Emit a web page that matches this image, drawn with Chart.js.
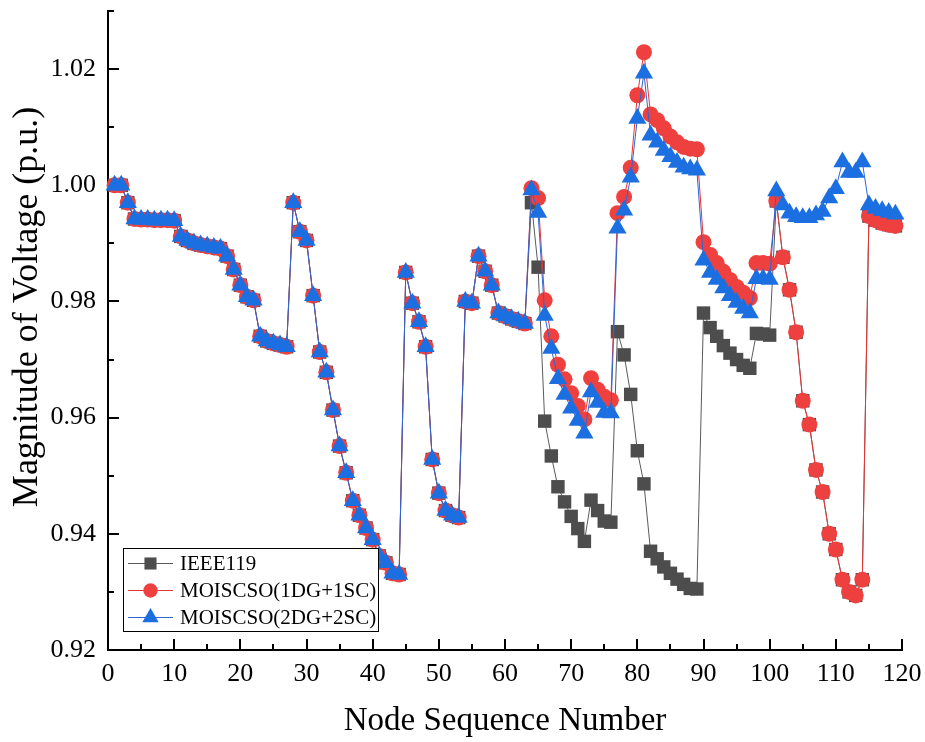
<!DOCTYPE html>
<html>
<head>
<meta charset="utf-8">
<script src="https://cdn.jsdelivr.net/npm/chart.js@4.4.1/dist/chart.umd.min.js"></script>
<style>
  html, body { margin: 0; padding: 0; background: #fff; }
  #chart { display: block; }
</style>
</head>
<body>
<canvas id="chart" width="925" height="742"></canvas>
<script>
// node numbers of the 119-bus feeder
const nodes = Array.from({ length: 119 }, (_, i) => i + 1);

// bus voltage magnitudes (p.u.), one value per node
const ieee119 = [
  1.0000, 1.0000, 0.9970, 0.9942, 0.9941, 0.9941, 0.9940, 0.9940, 0.9940, 0.9939,
  0.9912, 0.9905, 0.9900, 0.9897, 0.9895, 0.9893, 0.9891, 0.9878, 0.9855, 0.9828,
  0.9808, 0.9802, 0.9740, 0.9732, 0.9728, 0.9725, 0.9722, 0.9970, 0.9920, 0.9905,
  0.9810, 0.9713, 0.9678, 0.9613, 0.9551, 0.9505, 0.9457, 0.9432, 0.9410, 0.9390,
  0.9362, 0.9350, 0.9332, 0.9330, 0.9850, 0.9797, 0.9765, 0.9722, 0.9528, 0.9470,
  0.9440, 0.9432, 0.9428, 0.9800, 0.9797, 0.9878, 0.9852, 0.9828, 0.9780, 0.9775,
  0.9770, 0.9766, 0.9762, 0.9970, 0.9859, 0.9594, 0.9534, 0.9481, 0.9455, 0.9430,
  0.9409, 0.9387, 0.9458, 0.9440, 0.9422, 0.9420, 0.9748, 0.9708, 0.9640, 0.9543,
  0.9486, 0.9370, 0.9357, 0.9343, 0.9332, 0.9322, 0.9313, 0.9306, 0.9305, 0.9780,
  0.9755, 0.9740, 0.9724, 0.9711, 0.9700, 0.9690, 0.9685, 0.9745, 0.9744, 0.9742,
  0.9973, 0.9876, 0.9820, 0.9747, 0.9629, 0.9588, 0.9510, 0.9472, 0.9400, 0.9373,
  0.9321, 0.9300, 0.9294, 0.9321, 0.9947, 0.9940, 0.9935, 0.9932, 0.9930
];

const dg1sc1 = [
  1.0000, 1.0000, 0.9970, 0.9942, 0.9941, 0.9941, 0.9940, 0.9940, 0.9940, 0.9939,
  0.9912, 0.9905, 0.9900, 0.9897, 0.9895, 0.9893, 0.9891, 0.9878, 0.9855, 0.9828,
  0.9808, 0.9802, 0.9740, 0.9732, 0.9728, 0.9725, 0.9722, 0.9970, 0.9920, 0.9905,
  0.9810, 0.9713, 0.9678, 0.9613, 0.9551, 0.9505, 0.9457, 0.9432, 0.9410, 0.9390,
  0.9362, 0.9350, 0.9332, 0.9330, 0.9850, 0.9797, 0.9765, 0.9722, 0.9528, 0.9470,
  0.9440, 0.9432, 0.9428, 0.9800, 0.9797, 0.9878, 0.9852, 0.9828, 0.9780, 0.9775,
  0.9770, 0.9766, 0.9762, 0.9995, 0.9978, 0.9802, 0.9740, 0.9691, 0.9666, 0.9642,
  0.9620, 0.9597, 0.9668, 0.9648, 0.9636, 0.9630, 0.9952, 0.9980, 1.0030, 1.0155,
  1.0229, 1.0122, 1.0112, 1.0098, 1.0084, 1.0074, 1.0066, 1.0063, 1.0062, 0.9902,
  0.9880, 0.9866, 0.9851, 0.9837, 0.9825, 0.9815, 0.9806, 0.9866, 0.9866, 0.9865,
  0.9973, 0.9876, 0.9820, 0.9747, 0.9629, 0.9588, 0.9510, 0.9472, 0.9400, 0.9373,
  0.9321, 0.9300, 0.9294, 0.9321, 0.9947, 0.9940, 0.9935, 0.9932, 0.9930
];

const dg2sc2 = [
  1.0000, 1.0000, 0.9970, 0.9942, 0.9941, 0.9941, 0.9940, 0.9940, 0.9940, 0.9939,
  0.9912, 0.9905, 0.9900, 0.9897, 0.9895, 0.9893, 0.9891, 0.9878, 0.9855, 0.9828,
  0.9808, 0.9802, 0.9740, 0.9732, 0.9728, 0.9725, 0.9722, 0.9970, 0.9920, 0.9905,
  0.9810, 0.9713, 0.9678, 0.9613, 0.9551, 0.9505, 0.9457, 0.9432, 0.9410, 0.9390,
  0.9362, 0.9350, 0.9332, 0.9330, 0.9850, 0.9797, 0.9765, 0.9722, 0.9528, 0.9470,
  0.9440, 0.9432, 0.9428, 0.9800, 0.9797, 0.9878, 0.9852, 0.9828, 0.9780, 0.9775,
  0.9770, 0.9766, 0.9762, 0.9992, 0.9953, 0.9776, 0.9719, 0.9667, 0.9640, 0.9616,
  0.9595, 0.9573, 0.9644, 0.9626, 0.9609, 0.9608, 0.9926, 0.9957, 1.0014, 1.0115,
  1.0193, 1.0086, 1.0074, 1.0060, 1.0049, 1.0039, 1.0031, 1.0028, 1.0026, 0.9871,
  0.9850, 0.9838, 0.9823, 0.9810, 0.9798, 0.9788, 0.9780, 0.9839, 0.9839, 0.9838,
  0.9990, 0.9966, 0.9952, 0.9946, 0.9944, 0.9944, 0.9949, 0.9955, 0.9978, 0.9994,
  1.0040, 1.0022, 1.0022, 1.0040, 0.9966, 0.9960, 0.9956, 0.9953, 0.9950
];

const seriesNames = ['IEEE119', 'MOISCSO(1DG+1SC)', 'MOISCSO(2DG+2SC)'];
const xTicks = [0, 10, 20, 30, 40, 50, 60, 70, 80, 90, 100, 110, 120];
const yTicks = [0.92, 0.94, 0.96, 0.98, 1.00, 1.02];
const yTitle = 'Magnitude of Voltage (p.u.)';

const serif = 'Liberation Serif, Times New Roman, serif';

const styles = [
  { color: '#4d4d4d', line: '#5a5a5a', pointStyle: 'rect', radius: 9.5 },
  { color: '#ef4040', line: '#e83434', pointStyle: 'circle', radius: 8 },
  { color: '#1c6fe0', line: '#2a66d6', pointStyle: 'triangle', radius: 10.5 }
];

const toPoints = vals => nodes.map((n, i) => ({ x: n, y: vals[i] }));

// ticks point into the plot, major and minor
const innerTicks = {
  id: 'innerTicks',
  beforeDatasetsDraw(chart) {
    const { ctx, chartArea: a, scales: { x, y } } = chart;
    ctx.save();
    ctx.strokeStyle = '#000';
    ctx.lineWidth = 2;
    ctx.beginPath();
    for (let v = 0; v <= 120; v += 5) {
      const px = Math.round(x.getPixelForValue(v));
      const len = v % 10 === 0 ? 11 : 6;
      ctx.moveTo(px, a.bottom);
      ctx.lineTo(px, a.bottom - len);
    }
    for (let k = 92; k <= 103; k++) {
      const py = Math.round(y.getPixelForValue(k / 100));
      const len = k % 2 === 0 ? 11 : 6;
      ctx.moveTo(a.left, py);
      ctx.lineTo(a.left + len, py);
    }
    ctx.stroke();

    // vertical axis title, set a little above the plot's middle
    ctx.fillStyle = '#000';
    ctx.font = '36px ' + serif;
    ctx.textAlign = 'center';
    ctx.textBaseline = 'middle';
    ctx.translate(28, 307);
    ctx.rotate(-Math.PI / 2);
    ctx.fillText(yTitle, 0, 0);
    ctx.restore();
  }
};

// boxed legend with line + marker samples
const boxLegend = {
  id: 'boxLegend',
  afterDatasetsDraw(chart) {
    const ctx = chart.ctx;
    const bx = 123.5, by = 548.5, bw = 255, bh = 83;
    ctx.save();
    ctx.fillStyle = '#fff';
    ctx.fillRect(bx, by, bw, bh);
    ctx.strokeStyle = '#000';
    ctx.lineWidth = 1;
    ctx.strokeRect(bx, by, bw, bh);
    seriesNames.forEach((name, i) => {
      const st = styles[i];
      const cy = by + 15 + i * 27;
      ctx.strokeStyle = st.line;
      ctx.lineWidth = 1;
      ctx.beginPath();
      ctx.moveTo(128, cy);
      ctx.lineTo(173, cy);
      ctx.stroke();
      ctx.fillStyle = st.color;
      Chart.helpers.drawPoint(ctx, {
        pointStyle: st.pointStyle,
        radius: st.radius * 0.9,
        rotation: 0,
        borderWidth: 0
      }, 150.5, cy);
      ctx.fillStyle = '#000';
      ctx.font = '21px ' + serif;
      ctx.textBaseline = 'middle';
      ctx.textAlign = 'left';
      ctx.fillText(name, 180, cy + 1);
    });
    ctx.restore();
  }
};

const series = [ieee119, dg1sc1, dg2sc2];

new Chart(document.getElementById('chart'), {
  type: 'line',
  data: {
    datasets: series.map((vals, i) => ({
      label: seriesNames[i],
      data: toPoints(vals),
      borderColor: styles[i].line,
      backgroundColor: styles[i].color,
      pointBackgroundColor: styles[i].color,
      pointBorderColor: styles[i].color,
      pointBorderWidth: 0,
      pointStyle: styles[i].pointStyle,
      pointRadius: styles[i].radius,
      borderWidth: 1,
      tension: 0,
      clip: false,
      order: 3 - i
    }))
  },
  options: {
    responsive: false,
    animation: false,
    layout: { padding: { top: 11, right: 23, left: 0, bottom: 0 } },
    plugins: {
      legend: { display: false },
      tooltip: { enabled: false }
    },
    scales: {
      x: {
        type: 'linear',
        min: 0,
        max: 120,
        afterBuildTicks: s => { s.ticks = xTicks.map(v => ({ value: v })); },
        afterFit: s => { s.height = 92; s.paddingLeft = 0; s.paddingRight = 0; },
        grid: { display: false, drawTicks: false },
        border: { display: true, color: '#000', width: 2 },
        ticks: {
          color: '#000',
          font: { family: serif, size: 26 },
          padding: 9,
          maxRotation: 0,
          autoSkip: false
        },
        title: {
          display: true,
          text: 'Node Sequence Number',
          color: '#000',
          font: { family: serif, size: 33 },
          padding: { top: 0, bottom: 1 }
        }
      },
      y: {
        type: 'linear',
        min: 0.92,
        max: 1.03,
        afterBuildTicks: s => { s.ticks = yTicks.map(v => ({ value: v })); },
        afterFit: s => { s.width = 108; s.paddingTop = 0; s.paddingBottom = 0; },
        grid: { display: false, drawTicks: false },
        border: { display: true, color: '#000', width: 2 },
        ticks: {
          color: '#000',
          font: { family: serif, size: 26 },
          padding: 12,
          callback: v => v.toFixed(2)
        },
        title: { display: false }
      }
    }
  },
  plugins: [innerTicks, boxLegend]
});
</script>
</body>
</html>
